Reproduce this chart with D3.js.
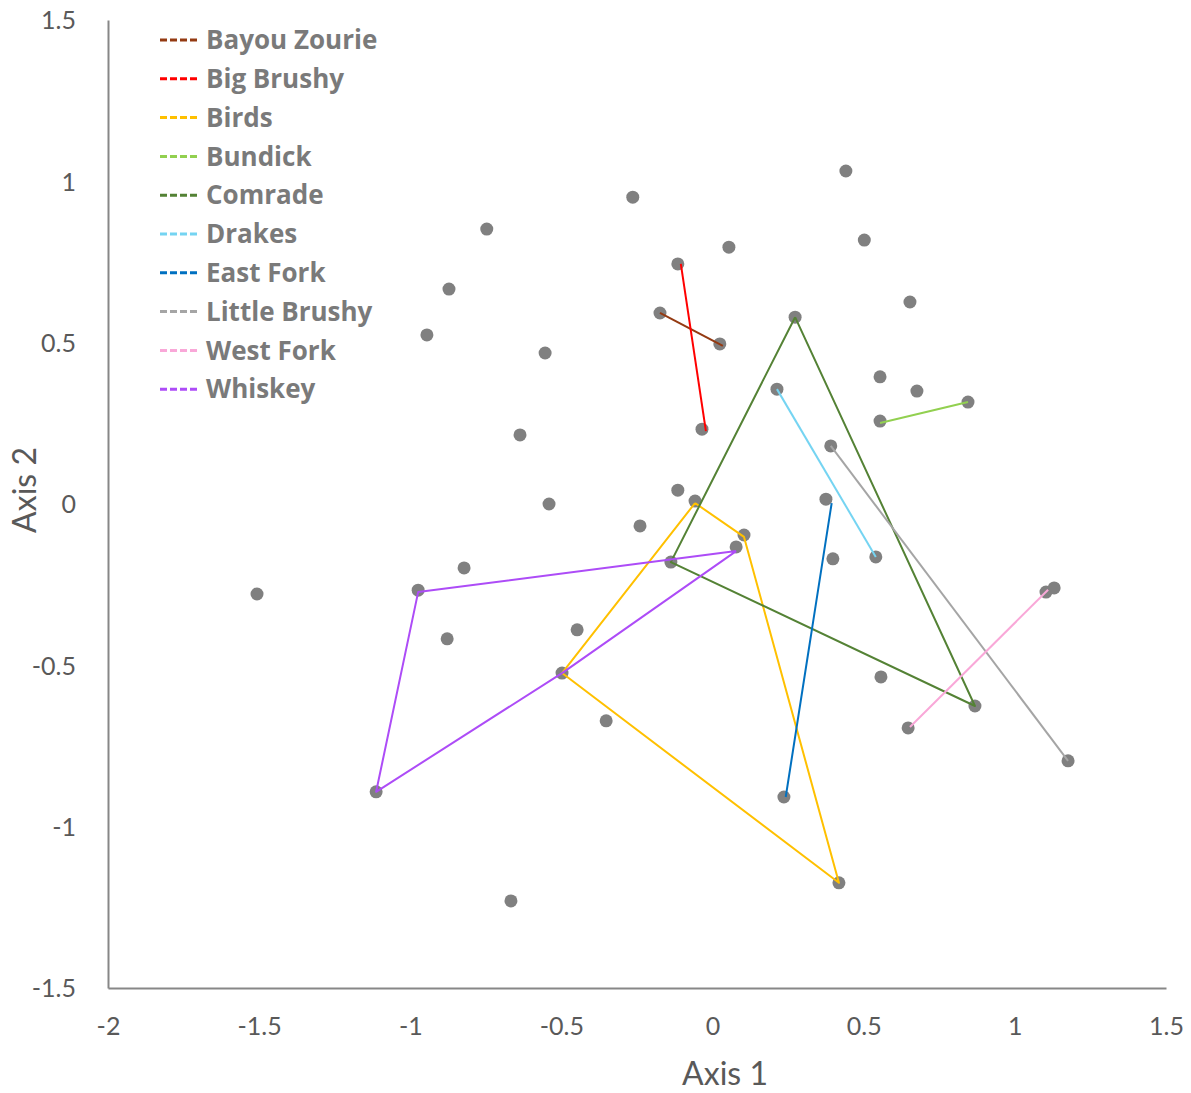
<!DOCTYPE html>
<meta charset="utf-8">
<style>
	body { margin: 0; background: #fff; }
	.tick-label { font-family: Lato, "Open Sans", sans-serif; font-size: 25px; fill: #595959; }
	.axis-title { font-family: Lato, "Open Sans", sans-serif; font-size: 32px; fill: #595959; }
	.legend-label { font-family: "Open Sans", Lato, sans-serif; font-size: 26px; font-weight: 700; fill: #7a7a7a; }
	.dot { fill: #808080; }
	.series { fill: none; stroke-width: 2; stroke-linejoin: round; }
</style>
<div id="chart"></div>
<script src="https://d3js.org/d3.v7.min.js"></script>
<script>
	// Ordination scores (all sites)
	const ptsX = [0.441, -0.264, -0.747, 0.054, 0.502, -0.115, -0.872, 0.653, -0.174, -0.945,
		0.273, 0.024, -0.554, 0.554, 0.676, 0.213, 0.845, 0.554, -0.035, -0.637,
		0.391, -0.115, -0.541, -0.058, 0.375, -0.240, 0.104, 0.078, -0.138, 0.398,
		0.540, -0.822, -1.507, -0.974, 1.103, 1.130, -0.448, -0.878, -0.498, 0.557,
		0.868, 0.647, -0.352, 1.176, -1.113, 0.236, 0.418, -0.667];
	const ptsY = [1.032, 0.951, 0.852, 0.796, 0.818, 0.744, 0.666, 0.626, 0.592, 0.524,
		0.579, 0.496, 0.468, 0.394, 0.350, 0.356, 0.316, 0.257, 0.232, 0.214,
		0.180, 0.043, 0.000, 0.009, 0.015, -0.068, -0.096, -0.133, -0.180, -0.170,
		-0.164, -0.198, -0.279, -0.267, -0.273, -0.260, -0.390, -0.418, -0.524, -0.536,
		-0.626, -0.694, -0.672, -0.796, -0.892, -0.908, -1.174, -1.230];

	// Stream series (legend order)
	const seriesNames = ["Bayou Zourie", "Big Brushy", "Birds", "Bundick", "Comrade",
		"Drakes", "East Fork", "Little Brushy", "West Fork", "Whiskey"];
	const seriesColors = ["#943A12", "#FF0000", "#FFC000", "#92D050", "#548235",
		"#75D4F2", "#0070C0", "#A5A5A5", "#F9A8D8", "#AD4CF7"];
	const seriesPaths = [
		[[-0.174, 0.592], [0.034, 0.490]],
		[[-0.105, 0.744], [-0.022, 0.226]],
		[[-0.058, 0.003], [0.104, -0.102], [0.418, -1.174], [-0.498, -0.524], [-0.058, 0.003]],
		[[0.554, 0.251], [0.845, 0.316]],
		[[0.273, 0.579], [0.868, -0.626], [-0.138, -0.180], [0.273, 0.579]],
		[[0.213, 0.356], [0.540, -0.164]],
		[[0.394, 0.003], [0.242, -0.908]],
		[[0.391, 0.180], [1.176, -0.796]],
		[[0.653, -0.691], [1.110, -0.266]],
		[[0.078, -0.146], [-0.974, -0.273], [-1.113, -0.892], [-0.498, -0.524], [0.078, -0.146]]
	];

	const xTicks = [-2, -1.5, -1, -0.5, 0, 0.5, 1, 1.5];
	const yTicks = [-1.5, -1, -0.5, 0, 0.5, 1, 1.5];

	const W = 1191, H = 1093;
	const svg = d3.select("#chart").append("svg")
		.attr("width", W)
		.attr("height", H);

	const x = d3.scaleLinear().domain([-2, 1.5]).range([108, 1166]);
	const y = d3.scaleLinear().domain([-1.5, 1.5]).range([988, 20]);

	// AXES (plain hyphen minus, like the original)
	const fmt = d => String(d);
	const xAxis = svg.append("g")
		.attr("transform", "translate(0,988)")
		.call(d3.axisBottom(x).tickValues(xTicks).tickSize(0).tickFormat(fmt));
	xAxis.select(".domain").attr("stroke", "#878787").attr("stroke-width", 2);
	xAxis.selectAll("text").attr("class", "tick-label").attr("dy", 0).attr("y", 47);

	const yAxis = svg.append("g")
		.attr("transform", "translate(108,0)")
		.call(d3.axisLeft(y).tickValues(yTicks).tickSize(0).tickFormat(fmt));
	yAxis.select(".domain").attr("stroke", "#878787").attr("stroke-width", 2);
	yAxis.selectAll("text").attr("class", "tick-label").attr("x", -32).attr("dy", "0.35em");

	// AXIS TITLES
	svg.append("text")
		.attr("class", "axis-title")
		.attr("x", 725).attr("y", 1085)
		.attr("text-anchor", "middle")
		.text("Axis 1");
	svg.append("text")
		.attr("class", "axis-title")
		.attr("transform", "translate(36,490) rotate(-90)")
		.attr("text-anchor", "middle")
		.text("Axis 2");

	// DOTS
	svg.selectAll(".dot")
		.data(d3.range(ptsX.length))
		.enter().append("circle")
		.attr("class", "dot")
		.attr("cx", i => x(ptsX[i]))
		.attr("cy", i => y(ptsY[i]))
		.attr("r", 6.5);

	// SERIES LINES
	const line = d3.line().x(d => x(d[0])).y(d => y(d[1]));
	svg.selectAll(".series")
		.data(seriesPaths)
		.enter().append("path")
		.attr("class", "series")
		.attr("stroke", (d, i) => seriesColors[i])
		.attr("d", line);

	// LEGEND
	const legend = svg.append("g");
	const rows = legend.selectAll("g")
		.data(seriesNames)
		.enter().append("g")
		.attr("transform", (d, i) => "translate(160," + (40 + i * 38.8) + ")");
	rows.append("line")
		.attr("x1", 0).attr("x2", 38)
		.attr("stroke", (d, i) => seriesColors[i])
		.attr("stroke-width", 3)
		.attr("stroke-dasharray", "7,3");
	rows.append("text")
		.attr("class", "legend-label")
		.attr("x", 46)
		.attr("dy", "0.35em")
		.text(d => d);
</script>
